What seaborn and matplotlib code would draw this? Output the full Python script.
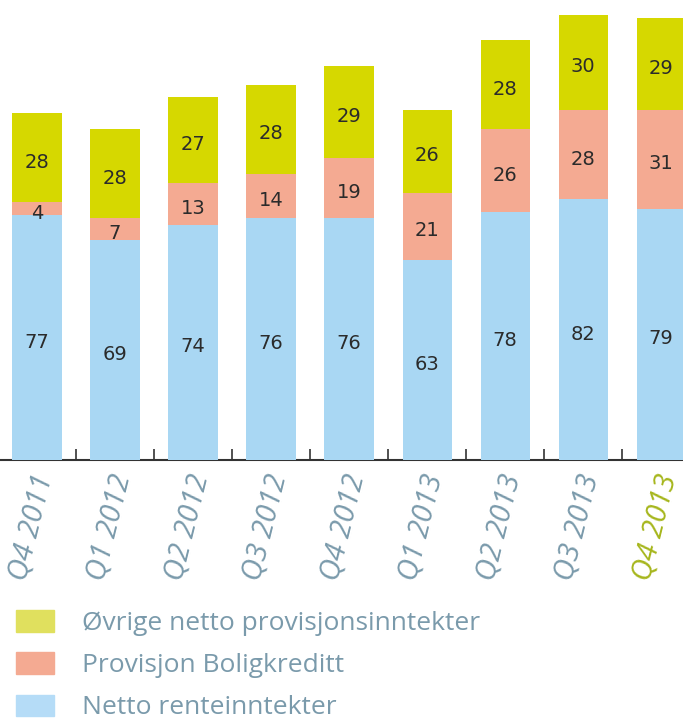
import matplotlib
matplotlib.use("Agg")
import matplotlib.pyplot as plt
import matplotlib.patches as mpatches
import matplotlib.transforms as mtransforms
import numpy as np
import pandas as pd
import seaborn as sns

quarters = ["Q4 2011", "Q1 2012", "Q2 2012", "Q3 2012", "Q4 2012",
            "Q1 2013", "Q2 2013", "Q3 2013", "Q4 2013"]
netto_rente = [77, 69, 74, 76, 76, 63, 78, 82, 79]
boligkreditt = [4, 7, 13, 14, 19, 21, 26, 28, 31]
ovrige = [28, 28, 27, 28, 29, 26, 28, 30, 29]
series_names = ["Øvrige netto provisjonsinntekter", "Provisjon Boligkreditt",
                "Netto renteinntekter"]

YELLOW, SALMON, BLUE = "#d6d800", "#f4aa92", "#a9d7f3"
LEG_COLORS = ["#e0e05e", "#f4aa92", "#b5dcf7"]
TXT = "#7a9aab"
HIGHLIGHT = "#a6b61c"

df = pd.DataFrame({"quarter": quarters, "rente": netto_rente,
                   "bolig": boligkreditt, "ovrige": ovrige})
df["mid"] = df["rente"] + df["bolig"]
df["total"] = df["mid"] + df["ovrige"]

sns.set_style("white")
plt.rcParams["font.family"] = ["Open Sans", "DejaVu Sans"]

fig = plt.figure(figsize=(6.83, 7.2), dpi=100)
ax = fig.add_axes([0, 1 - 460 / 720, 1, 460 / 720])

# stacked by overdrawing cumulative totals
for col, c in [("total", YELLOW), ("mid", SALMON), ("rente", BLUE)]:
    sns.barplot(data=df, x="quarter", y=col, color=c, width=0.63,
                saturation=1, ax=ax, linewidth=0, edgecolor="none")

down = mtransforms.ScaledTranslation(0, -0.045, fig.dpi_scale_trans)
for i in range(len(quarters)):
    segs = [(0, netto_rente[i]), (netto_rente[i], boligkreditt[i]),
            (netto_rente[i] + boligkreditt[i], ovrige[i])]
    for bottom, v in segs:
        ax.text(i, bottom + v / 2, str(v), ha="center", va="center",
                fontsize=14, color="#2b2b2b", family="DejaVu Sans",
                transform=ax.transData + down)

ax.set_xlabel("")
ax.set_ylabel("")
ax.set_yticks([])
for s in ["top", "right", "left"]:
    ax.spines[s].set_visible(False)
ax.spines["bottom"].set_color("#333333")
ax.spines["bottom"].set_linewidth(1.5)
ax.spines["bottom"].set_zorder(0)

ax.set_xticks(np.arange(len(quarters) - 1) + 0.5, minor=True)
ax.tick_params(axis="x", which="minor", bottom=True, direction="in", length=8,
               width=1.2, color="#333333")
ax.tick_params(axis="x", which="major", length=0, pad=8)
ax.set_xticks(range(len(quarters)))
offset = mtransforms.ScaledTranslation(0.22, 0, fig.dpi_scale_trans)
labels = ax.set_xticklabels(quarters, rotation=76, ha="right", va="top",
                            fontsize=21, color=TXT, style="italic")
for lab in labels:
    lab.set_transform(lab.get_transform() + offset)
labels[-1].set_color(HIGHLIGHT)
ax.set_xlim(-0.474, 8.28)
ax.set_ylim(0, 144.6)

handles = [mpatches.Patch(color=c, label=n) for c, n in zip(LEG_COLORS, series_names)]
leg = fig.legend(handles=handles, loc="upper left", bbox_to_anchor=(0.008, 0.167),
                 frameon=False, fontsize=19, handlelength=1.44, handleheight=0.87,
                 handletextpad=1.06, labelspacing=0.62, borderaxespad=0)
for t in leg.get_texts():
    t.set_color(TXT)

fig.savefig("out.png", dpi=100)
